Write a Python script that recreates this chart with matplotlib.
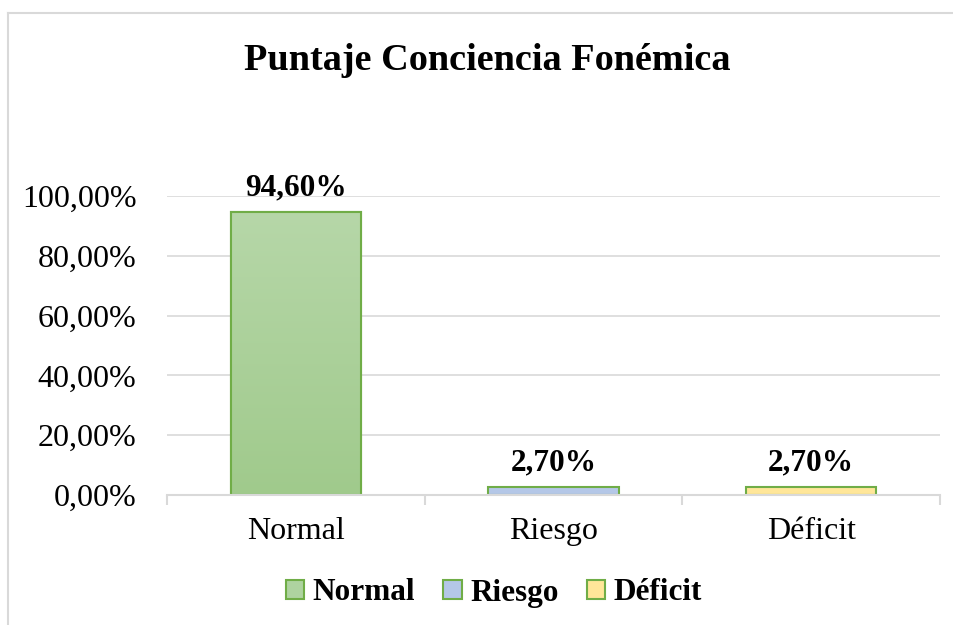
import numpy as np
import matplotlib
matplotlib.use("Agg")
import matplotlib.pyplot as plt
from matplotlib.lines import Line2D
from matplotlib.patches import Patch
from matplotlib.colors import LinearSegmentedColormap

categories = ["Normal", "Riesgo", "Déficit"]
values = [0.946, 0.027, 0.027]
value_labels = ["94,60%", "2,70%", "2,70%"]
yticks = [0.0, 0.2, 0.4, 0.6, 0.8, 1.0]
ytick_labels = ["0,00%", "20,00%", "40,00%", "60,00%", "80,00%", "100,00%"]
title = "Puntaje Conciencia Fonémica"

fills = ["#aed3a0", "#b4c7e7", "#ffe699"]
edge = "#70ad47"
grid_c = "#d9d9d9"

plt.rcParams['font.family'] = ['Liberation Serif', 'DejaVu Serif']

W, H = 954, 625
fig = plt.figure(figsize=(W / 100, H / 100), dpi=100)
ax = fig.add_axes([167 / W, 1 - 495 / H, (940 - 167) / W, (495 - 196) / H])

x = np.arange(len(categories))
bars = ax.bar(x, values, width=0.505, color=fills, edgecolor=edge, linewidth=1.5, zorder=3)

# gradient on the first bar
grad = LinearSegmentedColormap.from_list("g", ["#a0ca8c", "#b6d7a8"])
b0 = bars[0]
bx, by = b0.get_x(), b0.get_y()
bw, bh = b0.get_width(), b0.get_height()
img = ax.imshow(np.linspace(0, 1, 256).reshape(-1, 1), cmap=grad, origin='lower',
                extent=[bx, bx + bw, by, by + bh], aspect='auto', zorder=3.5)
img.set_clip_path(b0)
b0_edge = ax.bar([x[0]], [values[0]], width=0.505, facecolor='none', edgecolor=edge,
                 linewidth=1.5, zorder=4)

for xi, v, lab in zip(x, values, value_labels):
    ax.annotate(lab, (xi, v), xytext=(0, 7), textcoords='offset points',
                ha='center', va='bottom', fontsize=22.5, fontweight='bold')

ax.set_xlim(-0.5, 2.5)
ax.set_ylim(0, 1.0)
ax.set_yticks(yticks)
ax.set_yticklabels(ytick_labels, fontsize=23)
ax.set_xticks(x)
ax.set_xticklabels(categories, fontsize=23)
ax.set_xticks([-0.5, 0.5, 1.5, 2.5], minor=True)
ax.tick_params(axis='y', length=0, pad=22)
ax.tick_params(axis='x', which='major', length=0, pad=16)
ax.tick_params(axis='x', which='minor', length=7, width=1.5, color=grid_c)
ax.grid(axis='y', color=grid_c, linewidth=1.2, zorder=0)
ax.set_axisbelow(True)
for s in ['top', 'right', 'left']:
    ax.spines[s].set_visible(False)
ax.spines['bottom'].set_color(grid_c)
ax.spines['bottom'].set_linewidth(1.5)
ax.spines['bottom'].set_zorder(5)

fig.text(487.5 / W, 1 - 60 / H, title, ha='center', va='center', fontsize=27.5, fontweight='bold')

handles = [Patch(facecolor=f, edgecolor=edge, linewidth=1.5) for f in fills]
fig.legend(handles, categories, loc='center', bbox_to_anchor=(494 / W, 1 - 593 / H), ncol=3,
           frameon=False, prop={'size': 22.5, 'weight': 'bold'}, handlelength=0.58,
           handleheight=0.58, handletextpad=0.28, columnspacing=0.9, borderaxespad=0)

# chart border
fig.add_artist(Line2D([8 / W, 8 / W], [0, 1 - 13 / H], color=grid_c, lw=1.5, transform=fig.transFigure))
fig.add_artist(Line2D([8 / W, 1], [1 - 13 / H, 1 - 13 / H], color=grid_c, lw=1.5, transform=fig.transFigure))

fig.savefig("out.png", dpi=100)
